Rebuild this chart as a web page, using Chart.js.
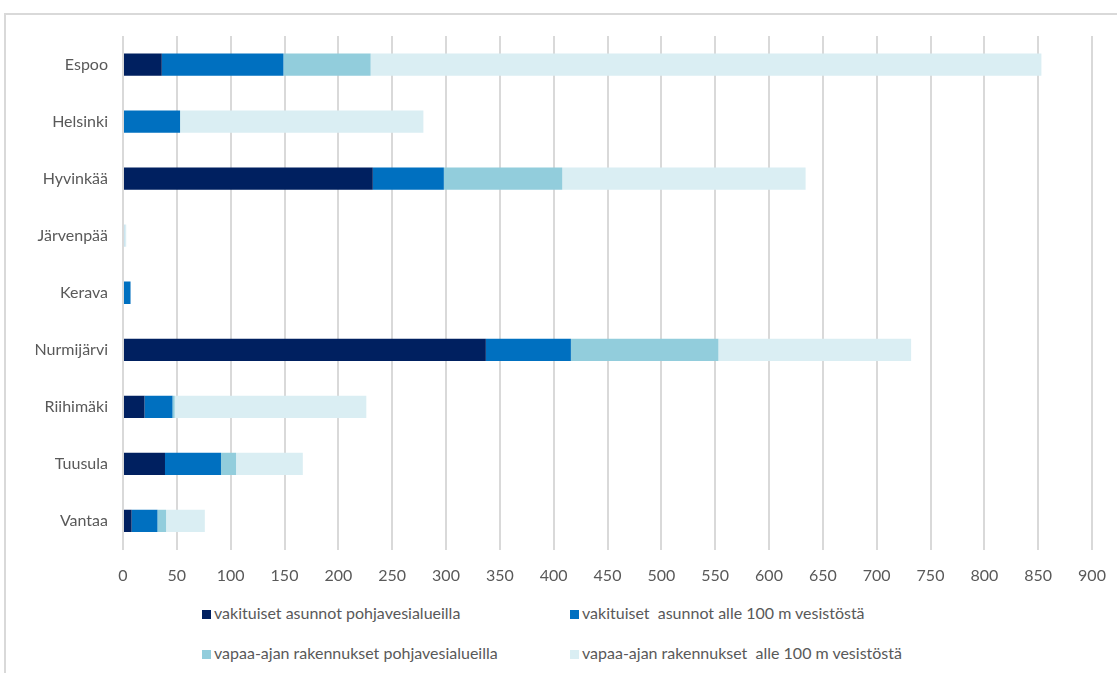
<!DOCTYPE html>
<html>
<head>
<meta charset="utf-8">
<script src="https://cdn.jsdelivr.net/npm/chart.js@4.4.1/dist/chart.umd.min.js"></script>
<style>
  html, body { margin: 0; padding: 0; background: #fff; }
  body { width: 1117px; height: 673px; position: relative; overflow: hidden;
         font-family: Lato, "Open Sans", sans-serif; }
  #frame { position: absolute; left: 4px; top: 13px; width: 1200px; height: 800px;
           border: 2px solid #d9d9d9; box-sizing: border-box; }
  #wrap { position: absolute; left: 0; top: 0; width: 1117px; height: 600px; }
  #legend { position: absolute; left: 0; top: 600px; width: 1117px; }
  .item { position: absolute; font-size: 16px; color: #595959; white-space: pre; }
  .box { display: inline-block; width: 9px; height: 9px; margin-right: 3px; }
</style>
</head>
<body>
<div id="frame"></div>
<div id="wrap"><canvas id="graph"></canvas></div>
<div id="legend"></div>
<script>
// kunnat
const kunnat = ['Espoo', 'Helsinki', 'Hyvinkää', 'Järvenpää', 'Kerava', 'Nurmijärvi', 'Riihimäki', 'Tuusula', 'Vantaa'];

const vakituisetPohjavesi = [36, 0, 232, 0, 0, 337, 20, 39, 8];
const vakituisetVesisto   = [113, 53, 66, 1, 7, 79, 26, 52, 24];
const vapaaAjanPohjavesi  = [81, 0, 110, 0, 0, 137, 2, 14, 8];
const vapaaAjanVesisto    = [623, 226, 226, 2, 0, 179, 178, 62, 36];

const sarjat = ['vakituiset asunnot pohjavesialueilla', 'vakituiset  asunnot alle 100 m vesistöstä',
                'vapaa-ajan rakennukset pohjavesialueilla', 'vapaa-ajan rakennukset  alle 100 m vesistöstä'];
const varit = ['#002060', '#0070c0', '#92cddc', '#daeef3'];
const xTicks = [0, 50, 100, 150, 200, 250, 300, 350, 400, 450, 500, 550, 600, 650, 700, 750, 800, 850, 900];

const arvot = [vakituisetPohjavesi, vakituisetVesisto, vapaaAjanPohjavesi, vapaaAjanVesisto];
const fontti = { family: 'Lato, "Open Sans", sans-serif', size: 16 };

const ctx = document.querySelector('#graph').getContext('2d');
const chart = new Chart(ctx, {
  type: 'bar',
  data: {
    labels: kunnat,
    datasets: arvot.map((d, i) => ({
      label: sarjat[i],
      data: d,
      backgroundColor: varit[i],
      borderWidth: 0,
      barPercentage: 0.39,
      categoryPercentage: 1
    }))
  },
  options: {
    indexAxis: 'y',
    responsive: true,
    maintainAspectRatio: false,
    animation: false,
    layout: { padding: { top: 36, right: 25, left: 0, bottom: 0 } },
    plugins: { legend: { display: false }, tooltip: { enabled: false } },
    scales: {
      x: {
        stacked: true,
        min: 0, max: 900,
        afterBuildTicks: s => { s.ticks = xTicks.map(v => ({ value: v })); },
        afterFit: s => { s.height = 50.5; s.paddingLeft = 0; s.paddingRight = 0; },
        grid: { color: '#d9d9d9', lineWidth: 2, drawTicks: false },
        border: { display: false },
        ticks: { padding: 17, color: '#595959', font: fontti }
      },
      y: {
        stacked: true,
        afterFit: s => { s.width = 123; },
        grid: { display: false },
        border: { display: false },
        ticks: { padding: 7, color: '#595959', font: fontti }
      }
    }
  }
});

// legend in two columns
const pos = [[202, 3], [570, 3], [202, 43], [570, 43]];
const leg = document.getElementById('legend');
chart.data.datasets.forEach((ds, i) => {
  const el = document.createElement('div');
  el.className = 'item';
  el.style.left = pos[i][0] + 'px';
  el.style.top = pos[i][1] + 'px';
  el.innerHTML = '<span class="box" style="background:' + ds.backgroundColor + '"></span>';
  el.appendChild(document.createTextNode(ds.label));
  leg.appendChild(el);
});
</script>
</body>
</html>
